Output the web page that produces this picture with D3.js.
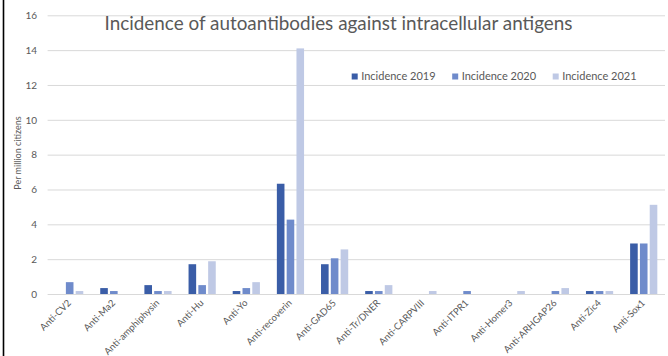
<!DOCTYPE html>
<html>
<head>
<meta charset="utf-8">
<script src="https://cdn.jsdelivr.net/npm/d3@7"></script>
<style>
  html, body { margin: 0; padding: 0; background: #fff; }
  svg { display: block; }
  text { font-family: Lato, "Open Sans", sans-serif; fill: #595959; }
</style>
</head>
<body>
<svg id="chart" width="668" height="356"></svg>
<script>
// Incidence per million citizens, by antibody and year
const categories = [
  "Anti-CV2", "Anti-Ma2", "Anti-amphiphysin", "Anti-Hu", "Anti-Yo",
  "Anti-recoverin", "Anti-GAD65", "Anti-Tr/DNER", "Anti-CARPVIII",
  "Anti-ITPR1", "Anti-Homer3", "Anti-ARHGAP26", "Anti-Zic4", "Anti-Sox1"
];
const seriesNames = ["Incidence 2019", "Incidence 2020", "Incidence 2021"];
const incidence2019 = [0, 0.34, 0.51, 1.71, 0.17, 6.33, 1.71, 0.17, 0, 0, 0, 0, 0.17, 2.9];
const incidence2020 = [0.68, 0.17, 0.17, 0.51, 0.34, 4.27, 2.05, 0.17, 0, 0.17, 0, 0.17, 0.17, 2.9];
const incidence2021 = [0.17, 0, 0.17, 1.88, 0.68, 14.1, 2.56, 0.51, 0.17, 0, 0.17, 0.34, 0.17, 5.12];
const yTicks = [0, 2, 4, 6, 8, 10, 12, 14, 16];
const colors = ["#3A5DA7", "#6F8BCB", "#BFC9E5"];

const seriesValues = [incidence2019, incidence2020, incidence2021];

const svg = d3.select("#chart");

const x = d3.scaleBand().domain(categories).range([47.6, 665.8]).padding(0);
const x1 = d3.scaleBand().domain(seriesNames)
  .range([x.bandwidth() / 2 - 14.7, x.bandwidth() / 2 + 14.7]).padding(0);
const y = d3.scaleLinear().domain([0, 16]).range([294, 15.3]);

// frame edge on the left
svg.append("line")
  .attr("x1", 3.5).attr("x2", 3.5).attr("y1", 0).attr("y2", 356)
  .attr("stroke", "#000").attr("stroke-width", 1.6);

// horizontal gridlines + y tick labels
const yAxis = d3.axisLeft(y).tickValues(yTicks).tickSize(-(665 - 47.6)).tickPadding(10);
const gy = svg.append("g").attr("transform", "translate(47.6,0)").call(yAxis);
gy.select(".domain").remove();
gy.selectAll(".tick line").attr("stroke", "#D9D9D9").attr("stroke-width", 1);
gy.selectAll(".tick text")
  .attr("x", -10.5)
  .style("font-size", "10px").style("fill", "#595959");

// title
svg.append("text")
  .attr("x", 104.5).attr("y", 30)
  .attr("textLength", 468).attr("lengthAdjust", "spacingAndGlyphs")
  .style("font-size", "19px")
  .text("Incidence of autoantibodies against intracellular antigens");

// bars
const groups = svg.append("g").selectAll("g")
  .data(categories)
  .join("g")
  .attr("transform", d => `translate(${x(d)},0)`);

groups.selectAll("rect")
  .data((d, i) => seriesNames.map((s, k) => ({ s, k, v: seriesValues[k][i] })))
  .join("rect")
  .filter(d => d.v > 0)
  .attr("x", d => x1(d.s) + 1.1)
  .attr("width", x1.bandwidth() - 2.2)
  .attr("y", d => y(d.v))
  .attr("height", d => y(0) - y(d.v))
  .attr("fill", d => colors[d.k]);

// category labels, rotated
const xAxis = d3.axisBottom(x).tickSize(0).tickPadding(0);
const gx = svg.append("g").attr("transform", "translate(0,294)").call(xAxis);
gx.select(".domain").remove();
gx.selectAll(".tick text")
  .attr("text-anchor", "end")
  .attr("transform", "translate(2,9.5) rotate(-45)")
  .attr("dy", "0")
  .attr("y", 0)
  .style("font-size", "9.5px").style("fill", "#595959");

// y axis title
svg.append("text")
  .attr("transform", "translate(21,153) rotate(-90)")
  .attr("text-anchor", "middle")
  .style("font-size", "9px")
  .text("Per million citizens");

// legend
const legend = svg.append("g").selectAll("g")
  .data(seriesNames)
  .join("g")
  .attr("transform", (d, i) => `translate(${351.7 + i * 100.5},73.5)`);
legend.append("rect").attr("width", 6).attr("height", 6).attr("fill", (d, i) => colors[i]);
legend.append("text")
  .attr("x", 9.5).attr("y", 6.8)
  .style("font-size", "11px")
  .text(d => d);
</script>
</body>
</html>
